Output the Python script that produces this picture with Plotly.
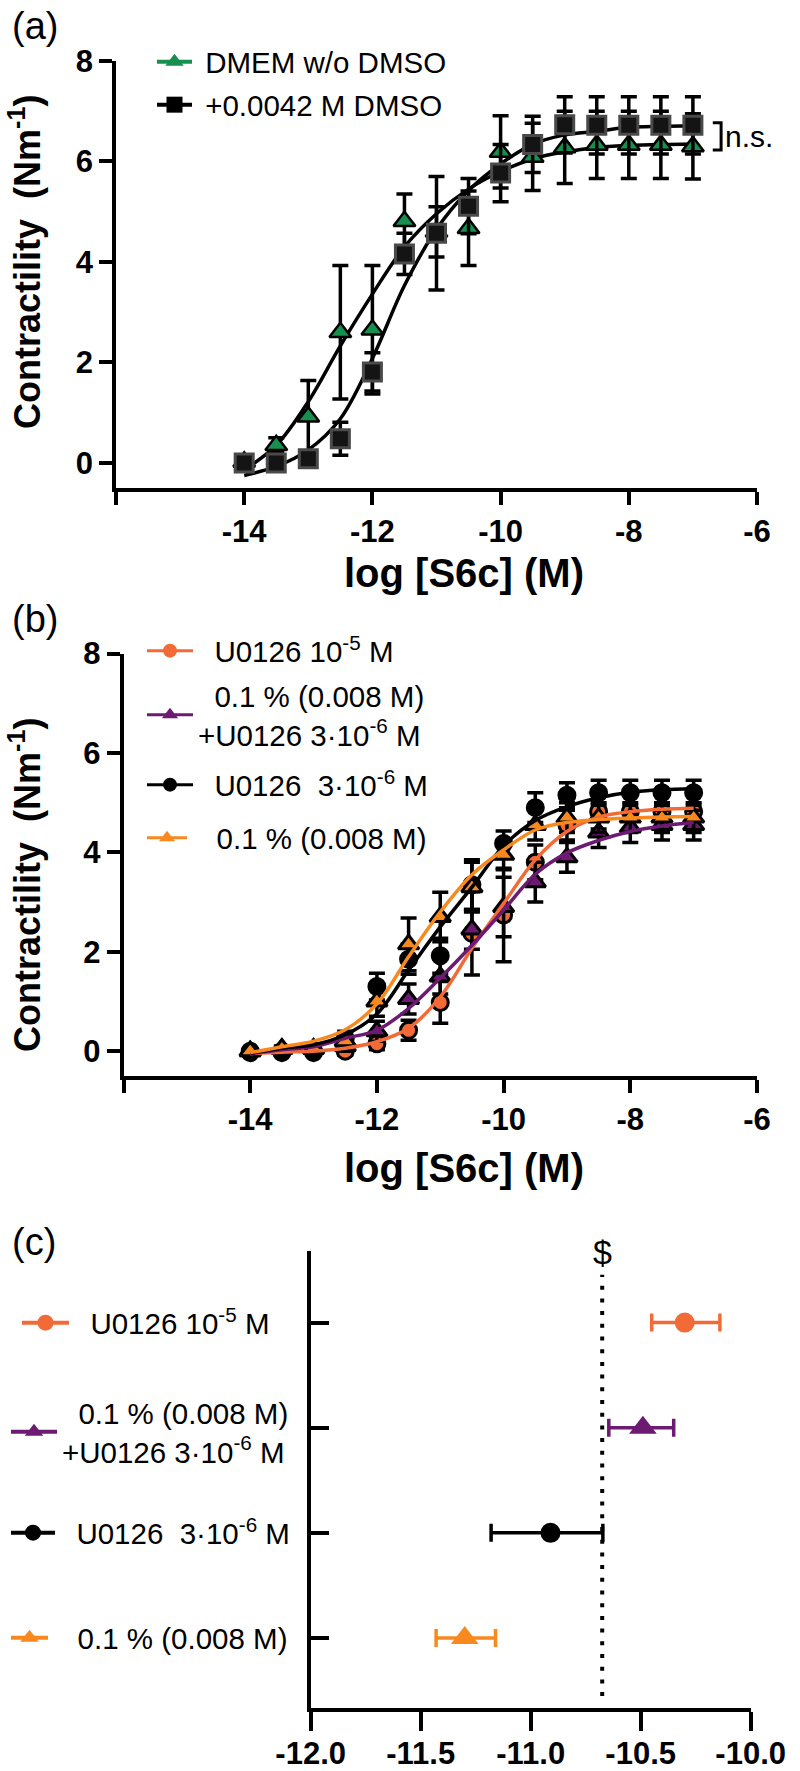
import plotly.graph_objects as go

W, H = 800, 1771
FONT = 'Liberation Sans, Arial, sans-serif'
NB = '\u00a0'

# shared concentrations, log [S6c] (M)
LOG_CONC = [-14, -13.5, -13, -12.5, -12, -11.5, -11, -10.5, -10, -9.5, -9, -8.5, -8, -7.5, -7]

# panel (a)
DMEM_MEAN = [0.02, 0.35, 0.92, 2.6, 2.65, 4.81, 4.6, 4.67, 6.19, 6.09, 6.28, 6.33, 6.33, 6.33, 6.3]
DMEM_SEM = [0.1, 0.15, 0.72, 1.33, 1.28, 0.54, 0.5, 0.74, 0.72, 0.67, 0.72, 0.67, 0.67, 0.67, 0.65]
DMEM_FIT = [-0.14, 0.35, 1.22, 2.33, 3.36, 4.3, 4.96, 5.45, 5.8, 6.05, 6.19, 6.28, 6.32, 6.34, 6.35]
DMSO_MEAN = [0.0, 0.0, 0.08, 0.48, 1.81, 4.16, 4.57, 5.11, 5.77, 6.34, 6.73, 6.72, 6.72, 6.72, 6.72]
DMSO_SEM = [0.05, 0.1, 0.15, 0.33, 0.38, 0.41, 1.13, 0.55, 0.57, 0.56, 0.56, 0.57, 0.57, 0.57, 0.57]
DMSO_FIT = [-0.25, -0.07, 0.26, 0.88, 2.08, 3.53, 4.65, 5.42, 5.95, 6.34, 6.53, 6.6, 6.68, 6.7, 6.71]

# panel (b)
U10_MEAN = [-0.03, -0.03, -0.03, 0.0, 0.15, 0.42, 0.98, 2.37, 2.74, 3.8, 4.55, 4.82, 4.82, 4.82, 4.82]
U10_SEM = [0.05, 0.05, 0.05, 0.08, 0.12, 0.2, 0.42, 0.84, 0.94, 0.35, 0.3, 0.35, 0.35, 0.35, 0.35]
U10_FIT = [-0.05, -0.02, 0.0, 0.06, 0.19, 0.46, 1.09, 2.07, 2.97, 3.85, 4.42, 4.71, 4.82, 4.87, 4.89]
MIX_MEAN = [0.0, 0.05, 0.05, 0.1, 0.4, 1.05, 1.5, 2.45, 2.9, 3.4, 3.9, 4.4, 4.5, 4.55, 4.55]
MIX_SEM = [0.05, 0.05, 0.08, 0.1, 0.2, 0.3, 0.35, 0.4, 0.6, 0.4, 0.3, 0.3, 0.3, 0.3, 0.3]
MIX_FIT = [-0.05, 0.03, 0.09, 0.26, 0.42, 0.86, 1.47, 2.13, 2.84, 3.56, 3.99, 4.24, 4.42, 4.53, 4.6]
U3_MEAN = [0.0, 0.0, 0.0, 0.25, 1.3, 1.85, 1.92, 3.35, 4.18, 4.9, 5.15, 5.2, 5.2, 5.2, 5.2]
U3_SEM = [0.05, 0.05, 0.08, 0.15, 0.27, 0.3, 0.35, 0.5, 0.25, 0.3, 0.25, 0.25, 0.25, 0.25, 0.25]
U3_FIT = [-0.04, 0.06, 0.13, 0.33, 0.75, 1.63, 2.5, 3.3, 4.13, 4.64, 4.92, 5.1, 5.21, 5.26, 5.28]
VEH_MEAN = [0.0, 0.05, 0.05, 0.2, 1.0, 2.15, 2.7, 3.3, 3.95, 4.55, 4.7, 4.7, 4.7, 4.7, 4.7]
VEH_SEM = [0.05, 0.05, 0.08, 0.15, 0.3, 0.53, 0.5, 0.5, 0.3, 0.3, 0.3, 0.3, 0.3, 0.3, 0.3]
VEH_FIT = [-0.03, 0.09, 0.2, 0.43, 0.95, 1.9, 2.8, 3.55, 4.05, 4.45, 4.6, 4.66, 4.69, 4.71, 4.72]

# panel (c): logEC50 with 95% range
C_GROUPS = ['U0126 1e-5', '0.1% + U0126 3e-6', 'U0126 3e-6', '0.1%']
C_EC50 = [-10.30, -10.49, -10.91, -11.30]
C_LOW = [-10.45, -10.645, -11.18, -11.43]
C_HIGH = [-10.14, -10.35, -10.672, -11.16]
REF_EC50 = -10.675

X_TICKS = [-14, -12, -10, -8, -6]
Y_TICKS = [0, 2, 4, 6, 8]
C_TICKS = [-12, -11.5, -11, -10.5, -10]

LABELS_A = ['DMEM w/o DMSO', '+0.0042 M DMSO']
LABELS_B = ['U0126 10<sup>-5</sup> M',
            '0.1 % (0.008 M)<br>+U0126 3·10<sup>-6</sup> M',
            'U0126 ' + NB + '3·10<sup>-6</sup> M',
            '0.1 % (0.008 M)']

GREEN = '#17904f'
RED_ORANGE = '#f26a36'
PURPLE = '#6d1a72'
ORANGE = '#f7891e'
C_COLORS = [RED_ORANGE, PURPLE, 'black', ORANGE]
C_SYMBOLS = ['circle', 'triangle-up', 'circle', 'triangle-up']


def px_x(v):
    return v / W


def px_y(v):
    return 1 - v / H


def err(sem, w=8):
    return dict(type='data', array=sem, color='black', thickness=3.5, width=w)


fig = go.Figure()

# ---- panel (a)
for fit in (DMEM_FIT, DMSO_FIT):
    fig.add_trace(go.Scatter(x=LOG_CONC, y=fit, mode='lines', line=dict(color='black', width=3.5, shape='spline'),
                             showlegend=False, xaxis='x', yaxis='y'))
fig.add_trace(go.Scatter(x=LOG_CONC, y=DMEM_MEAN, mode='markers', error_y=err(DMEM_SEM),
                         marker=dict(symbol='triangle-up', size=19, color=GREEN, line=dict(color='black', width=2.5)),
                         showlegend=False, xaxis='x', yaxis='y'))
fig.add_trace(go.Scatter(x=LOG_CONC, y=DMSO_MEAN, mode='markers', error_y=err(DMSO_SEM),
                         marker=dict(symbol='square', size=18, color='#141414', line=dict(color='#4a4a4a', width=3)),
                         showlegend=False, xaxis='x', yaxis='y'))

# ---- panel (b)
b_sets = [
    (U10_MEAN, U10_SEM, U10_FIT, RED_ORANGE, 'circle'),
    (MIX_MEAN, MIX_SEM, MIX_FIT, PURPLE, 'triangle-up'),
    (U3_MEAN, U3_SEM, U3_FIT, 'black', 'circle'),
    (VEH_MEAN, VEH_SEM, VEH_FIT, ORANGE, 'triangle-up'),
]
for mean, sem, fit, col, sym in b_sets:
    fig.add_trace(go.Scatter(x=LOG_CONC, y=mean, mode='markers', error_y=err(sem),
                             marker=dict(symbol=sym, size=16 if sym == 'circle' else 18, color=col,
                                         line=dict(color='black', width=3)),
                             showlegend=False, xaxis='x2', yaxis='y2'))
for mean, sem, fit, col, sym in b_sets:
    fig.add_trace(go.Scatter(x=LOG_CONC, y=fit, mode='lines', line=dict(color=col, width=3.5, shape='spline'),
                             showlegend=False, xaxis='x2', yaxis='y2'))

# ---- panel (c)
for i, g in enumerate(C_GROUPS):
    fig.add_trace(go.Scatter(
        x=[C_EC50[i]], y=[g], mode='markers',
        marker=dict(symbol=C_SYMBOLS[i], size=20 if C_SYMBOLS[i] == 'circle' else 24, color=C_COLORS[i]),
        error_x=dict(type='data', symmetric=False, array=[C_HIGH[i] - C_EC50[i]],
                     arrayminus=[C_EC50[i] - C_LOW[i]], color=C_COLORS[i], thickness=3.5, width=9),
        showlegend=False, xaxis='x3', yaxis='y3'))

# ---- legend keys: one legend box per entry so each sits where the original has it
# (text, colour, symbol, legend id, left px, centre px, symbol width px, leading spaces, marker, line)
keys = [
    (LABELS_A[0], GREEN, 'triangle-up', 'legend', 152, 62, 35, 1, 16, 4),
    (LABELS_A[1], 'black', 'square', 'legend2', 152, 105, 35, 1, 16, 4),
]
for i, lab in enumerate(LABELS_B):
    keys.append((lab, C_COLORS[i], C_SYMBOLS[i], 'legend%d' % (3 + i), 142,
                 [651, 715, 785, 838][i], [46, 46, 46, 40][i], [2, 2, 2, 3][i], 14, 3))
for i, lab in enumerate(LABELS_B):
    keys.append((lab, C_COLORS[i], C_SYMBOLS[i], 'legend%d' % (7 + i), [17, 6, 6, 6][i],
                 [1323, 1432, 1533, 1638][i], [47, 46, 44, 37][i], [2, 2, 2, 3][i], 16, 4))

legend_layout = {}
for text, col, sym, lg, lx, ly, iw, pad, ms, lw in keys:
    fig.add_trace(go.Scatter(x=[None], y=[None], mode='lines+markers', name=NB * pad + text, legend=lg,
                             line=dict(color=col, width=lw), marker=dict(symbol=sym, size=ms, color=col),
                             xaxis='x3', yaxis='y3'))
    legend_layout[lg] = dict(x=px_x(lx), y=px_y(ly), xanchor='left', yanchor='middle',
                             bgcolor='rgba(0,0,0,0)', borderwidth=0, itemwidth=max(iw, 30),
                             font=dict(family=FONT, size=29.5, color='black'),
                             itemclick=False, itemdoubleclick=False)

axis_style = dict(showgrid=False, zeroline=False, showline=True, linecolor='black', linewidth=3.5,
                  ticks='outside', tickwidth=3.5, tickcolor='black', automargin=False,
                  tickfont=dict(family=FONT, size=31, color='black', weight='bold'))
corner_tick = dict(tickvals=[-16], ticks='outside', ticklen=13, tickwidth=3.5, tickcolor='black')
x_text = ['%g' % v for v in X_TICKS]
y_text = ['%g' % v for v in Y_TICKS]

fig.update_layout(
    template='none',
    width=W, height=H, margin=dict(l=0, r=0, t=0, b=0, autoexpand=False),
    paper_bgcolor='white', plot_bgcolor='white', hovermode=False,
    xaxis=dict(axis_style, domain=[px_x(116), px_x(757)], range=[-16, -6], tickvals=X_TICKS, ticktext=x_text,
               ticklen=13, minor=corner_tick, anchor='y'),
    yaxis=dict(axis_style, domain=[px_y(488), px_y(61)], range=[-0.5, 8], tickvals=Y_TICKS, ticktext=y_text,
               ticklen=13, anchor='x'),
    xaxis2=dict(axis_style, domain=[px_x(123.5), px_x(757)], range=[-16, -6], tickvals=X_TICKS, ticktext=x_text,
                ticklen=13, minor=corner_tick, anchor='y2'),
    yaxis2=dict(axis_style, domain=[px_y(1076), px_y(653.6)], range=[-0.5, 8], tickvals=Y_TICKS, ticktext=y_text,
                ticklen=13, anchor='x2'),
    xaxis3=dict(axis_style, domain=[px_x(310.7), px_x(750.7)], range=[-12, -10],
                tickvals=C_TICKS, ticktext=['%.1f' % v for v in C_TICKS], ticklen=19,
                ticklabelstandoff=-4, anchor='y3'),
    yaxis3=dict(axis_style, domain=[px_y(1708), px_y(1250.6)], type='category',
                categoryorder='array', categoryarray=C_GROUPS, range=[3.666, -0.685],
                ticks='inside', ticklen=19, showticklabels=False, anchor='x3'),
    **legend_layout,
)

# dotted reference line in (c)
fig.add_shape(type='line', xref='x3', yref='y3 domain', x0=REF_EC50, x1=REF_EC50, y0=0.026, y1=0.947,
              line=dict(color='black', width=4, dash='4px,8.7px'))

# n.s. bracket in (a)
fig.add_shape(type='path', xref='x', yref='y',
              path='M -6.69 6.77 L -6.56 6.77 L -6.56 6.23 L -6.69 6.23',
              line=dict(color='black', width=3))

ann = []
bold = dict(family=FONT, color='black', weight='bold')
plain = dict(family=FONT, color='black')
for lab, y in (('(a)', 26), ('(b)', 619), ('(c)', 1242)):
    ann.append(dict(text=lab, x=px_x(10), y=px_y(y), xanchor='left', yanchor='middle', font=dict(plain, size=38)))
for y in (262, 885):
    ann.append(dict(text='Contractility' + NB + ' (Nm<sup>-1</sup>)', textangle=-90, x=px_x(25), y=px_y(y),
                    xanchor='center', yanchor='middle', font=dict(bold, size=36)))
for y in (573, 1168):
    ann.append(dict(text='log [S6c] (M)', x=px_x(464), y=px_y(y), xanchor='center', yanchor='middle',
                    font=dict(bold, size=40)))
ann.append(dict(text='n.s.', xref='paper', yref='y', x=px_x(723), y=6.5, xanchor='left', yanchor='middle',
                font=dict(plain, size=30)))
ann.append(dict(text='$', xref='x3', yref='paper', x=REF_EC50, y=px_y(1252), xanchor='center',
                yanchor='middle', font=dict(plain, size=34)))
for a in ann:
    a.setdefault('xref', 'paper')
    a.setdefault('yref', 'paper')
    a['showarrow'] = False
fig.update_layout(annotations=ann)

# the page's default 8px body margin would push the figure off the window
fig.write_html('out.html', config={'displayModeBar': False},
               post_script="document.body.style.margin='0px';")
